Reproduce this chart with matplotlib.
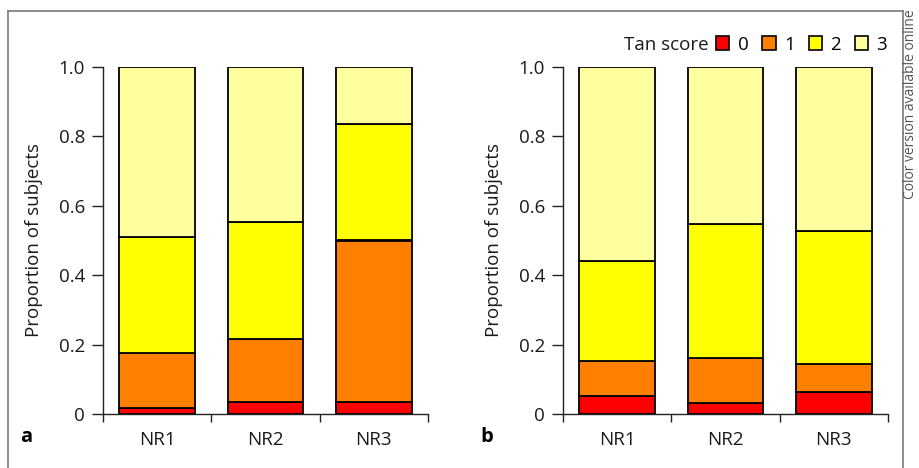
import numpy as np
import matplotlib
matplotlib.use('Agg')
import matplotlib.pyplot as plt
from matplotlib.patches import Rectangle
from matplotlib.lines import Line2D

plt.rcParams['font.family'] = ['Open Sans', 'DejaVu Sans']

groups = ['NR1', 'NR2', 'NR3']
scores = ['0', '1', '2', '3']
colors = ['#ff0000', '#ff8000', '#ffff00', '#ffffa0']

# proportion of subjects per Tan score, panel a
a_score0 = [0.016, 0.035, 0.035]
a_score1 = [0.160, 0.181, 0.465]
a_score2 = [0.334, 0.338, 0.337]
a_score3 = [0.490, 0.446, 0.163]

# panel b
b_score0 = [0.051, 0.032, 0.062]
b_score1 = [0.103, 0.129, 0.081]
b_score2 = [0.288, 0.386, 0.384]
b_score3 = [0.558, 0.453, 0.473]

FS = 13.5
TXT = '#1a1a1a'

fig = plt.figure(figsize=(9.19, 4.68), dpi=100)
W, H = 919, 468

def px(x0, y0, x1, y1):
    return [x0 / W, 1 - y1 / H, (x1 - x0) / W, (y1 - y0) / H]

def draw_panel(ax, series, letter):
    x = np.arange(len(groups))
    bottom = np.zeros(len(groups))
    for vals, c in zip(series, colors):
        ax.bar(x, vals, width=0.7, bottom=bottom, color=c,
               edgecolor='black', linewidth=1.3, zorder=2)
        bottom += np.array(vals)
    ax.set_xlim(-0.5, 2.5)
    ax.set_ylim(0, 1)
    ax.set_yticks(np.arange(0, 1.01, 0.2))
    ax.set_yticklabels(['0', '0.2', '0.4', '0.6', '0.8', '1.0'])
    ax.set_xticks(x)
    ax.set_xticklabels(groups)
    ax.set_xticks([-0.5, 0.5, 1.5, 2.5], minor=True)
    ax.tick_params(axis='x', which='major', length=0, pad=12,
                   labelsize=FS, labelcolor=TXT)
    ax.tick_params(axis='x', which='minor', length=6, width=1,
                   direction='out', color='#222222')
    ax.tick_params(axis='y', length=8, width=1, pad=5,
                   labelsize=FS, labelcolor=TXT, color='#222222')
    for s in ['top', 'right']:
        ax.spines[s].set_visible(False)
    for s in ['left', 'bottom']:
        ax.spines[s].set_linewidth(1.0)
        ax.spines[s].set_color('#222222')
    ax.set_ylabel('Proportion of subjects', fontsize=FS, color=TXT)
    ax.yaxis.set_label_coords(-0.185, 0.5)
    ax.text(-0.235, -0.065, letter, transform=ax.transAxes, fontsize=FS + 1,
            fontweight='bold', ha='center', va='center', color='black')

ax_a = fig.add_axes(px(103, 67, 428, 414))
ax_b = fig.add_axes(px(563, 67, 888, 414))
draw_panel(ax_a, [a_score0, a_score1, a_score2, a_score3], 'a')
draw_panel(ax_b, [b_score0, b_score1, b_score2, b_score3], 'b')

# legend
handles = [Rectangle((0, 0), 1, 1, facecolor=c, edgecolor='black', linewidth=1.2)
           for c in colors]
fig.legend(handles, scores, loc='center left', bbox_to_anchor=(716 / W, 1 - 44.5 / H),
           ncol=4, frameon=False, fontsize=FS, handlelength=0.7, handleheight=0.7,
           handletextpad=0.45, columnspacing=0.75, borderpad=0, borderaxespad=0)
fig.text(709 / W, 1 - 44.5 / H, 'Tan score', fontsize=FS, ha='right', va='center',
         color=TXT)

# outer frame
fc = '#7a7a7a'
fig.add_artist(Line2D([7.5 / W, 902.7 / W], [1 - 10.5 / H, 1 - 10.5 / H], color=fc, lw=1.2))
fig.add_artist(Line2D([7.5 / W, 7.5 / W], [0, 1 - 10.5 / H], color=fc, lw=1.2))
fig.add_artist(Line2D([902.7 / W, 902.7 / W], [0, 1 - 10.5 / H], color=fc, lw=1.2))

fig.text(911 / W, 1 - 9 / H, 'Color version available online', rotation=90,
         fontsize=10, ha='center', va='top', color='#555555')

fig.savefig('out.png', dpi=100)
